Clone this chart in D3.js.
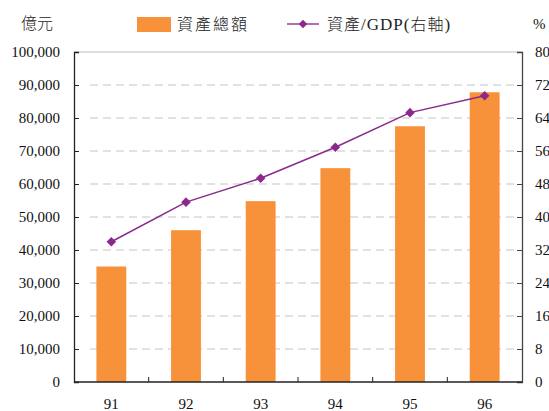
<!DOCTYPE html>
<html>
<head>
<meta charset="utf-8">
<script src="https://cdn.jsdelivr.net/npm/d3@7/dist/d3.min.js"></script>
<style>
  html, body { margin: 0; padding: 0; background: #fff; }
  svg { display: block; }
</style>
</head>
<body>
<svg id="chart" width="549" height="411"></svg>
<script>
// Years (ROC calendar)
const categories = ["91", "92", "93", "94", "95", "96"];
// Total assets, 億元 (left axis)
const assetTotals = [35000, 46000, 54800, 64800, 77500, 87800];
// Assets / GDP, % (right axis)
const assetGdpRatio = [34.0, 43.6, 49.4, 56.9, 65.3, 69.4];
// Tick labels
const leftTicks = [0, 10000, 20000, 30000, 40000, 50000, 60000, 70000, 80000, 90000, 100000];
const rightTicks = [0, 8, 16, 24, 32, 40, 48, 56, 64, 72, 80];

const SERIF = "'Liberation Serif', 'Times New Roman', Times, 'DejaVu Serif', serif";
const CJK = "'Noto Sans CJK TC', 'Noto Sans CJK SC', sans-serif";

const svg = d3.select("#chart");
const m = { left: 74, right: 522, top: 52, bottom: 382 };

const x = d3.scaleBand().domain(categories).range([m.left, m.right]).paddingInner(0.6).paddingOuter(0.3);
const xBand = d3.scaleBand().domain(categories).range([m.left, m.right]);
const yL = d3.scaleLinear().domain([0, 100000]).range([m.bottom, m.top]);
const yR = d3.scaleLinear().domain([0, 80]).range([m.bottom, m.top]);

const fmt = d3.format(",");

function numStyle(sel) {
  sel.style("font-family", SERIF).style("font-size", "15px").style("fill", "#111");
}
function cjkStyle(sel) {
  sel.style("font-family", CJK).style("font-size", "16px").style("font-weight", "300").style("fill", "#222");
}

// Dashed gridlines
svg.append("g").selectAll("line")
  .data(leftTicks.filter(d => d > 0 && d < 100000))
  .join("line")
  .attr("x1", m.left + 16).attr("x2", m.right - 4)
  .attr("y1", d => yL(d)).attr("y2", d => yL(d))
  .attr("stroke", "#c4c4c4").attr("stroke-width", 1)
  .attr("stroke-dasharray", "8,5");

// Top border
svg.append("line")
  .attr("x1", m.left).attr("x2", m.right)
  .attr("y1", yL(100000)).attr("y2", yL(100000))
  .attr("stroke", "#bdbdbd").attr("stroke-width", 1.2);

// Bars
svg.append("g").selectAll("rect")
  .data(categories)
  .join("rect")
  .attr("x", d => x(d))
  .attr("width", x.bandwidth())
  .attr("y", (d, i) => yL(assetTotals[i]))
  .attr("height", (d, i) => yL(0) - yL(assetTotals[i]))
  .attr("fill", "#f7923a");

// Left axis
const gL = svg.append("g").attr("transform", `translate(${m.left},0)`)
  .call(d3.axisLeft(yL).tickValues(leftTicks).tickSize(-5).tickPadding(14).tickFormat(fmt));
gL.select(".domain").attr("stroke", "#222").attr("stroke-width", 1.3);
gL.selectAll(".tick line").attr("stroke", "#222");
gL.selectAll("text").call(numStyle);

// Right axis
const gR = svg.append("g").attr("transform", `translate(${m.right},0)`)
  .call(d3.axisRight(yR).tickValues(rightTicks).tickSize(-5).tickPadding(13));
gR.select(".domain").attr("stroke", "#444").attr("stroke-width", 1.3);
gR.selectAll(".tick line").attr("stroke", "#444");
gR.selectAll("text").call(numStyle);

// Bottom axis: ticks at category boundaries, labels centred
const gB = svg.append("g").attr("transform", `translate(0,${m.bottom})`);
gB.append("line").attr("x1", m.left).attr("x2", m.right).attr("y1", 0).attr("y2", 0)
  .attr("stroke", "#222").attr("stroke-width", 1.3);
gB.selectAll(".bt").data(categories.slice(1)).join("line")
  .attr("class", "bt")
  .attr("x1", d => xBand(d)).attr("x2", d => xBand(d))
  .attr("y1", 0).attr("y2", -5).attr("stroke", "#222");
gB.selectAll("text").data(categories).join("text")
  .attr("x", d => xBand(d) + xBand.bandwidth() / 2)
  .attr("y", 27)
  .attr("text-anchor", "middle")
  .text(d => d)
  .call(numStyle);

// Ratio line with diamond markers
const line = d3.line()
  .x((d, i) => xBand(categories[i]) + xBand.bandwidth() / 2)
  .y(d => yR(d));
svg.append("path").datum(assetGdpRatio)
  .attr("d", line).attr("fill", "none")
  .attr("stroke", "#8b2a8c").attr("stroke-width", 1.5);
const diamond = d3.symbol().type(d3.symbolSquare).size(46);
svg.append("g").selectAll("path")
  .data(assetGdpRatio)
  .join("path")
  .attr("d", diamond)
  .attr("transform", (d, i) => `translate(${xBand(categories[i]) + xBand.bandwidth() / 2},${yR(d)}) rotate(45)`)
  .attr("fill", "#8b2a8c");

// Unit labels
svg.append("text").attr("x", 21).attr("y", 29).text("億元").call(cjkStyle);
svg.append("text").attr("x", 533).attr("y", 29).text("%").call(numStyle);

// Legend
svg.append("rect").attr("x", 137).attr("y", 17).attr("width", 34).attr("height", 15).attr("fill", "#f7923a");
svg.append("text").attr("x", 177).attr("y", 30).attr("letter-spacing", 2).text("資產總額").call(cjkStyle);
svg.append("line").attr("x1", 287).attr("x2", 319).attr("y1", 24).attr("y2", 24)
  .attr("stroke", "#9a3c9b").attr("stroke-width", 1.5);
svg.append("path").attr("d", d3.symbol().type(d3.symbolSquare).size(36))
  .attr("transform", "translate(303,24) rotate(45)").attr("fill", "#8b2a8c");
svg.append("text").attr("x", 327).attr("y", 30).attr("letter-spacing", 1).call(cjkStyle)
  .call(t => {
    t.append("tspan").text("資產");
    t.append("tspan").style("font-family", SERIF).style("font-size", "17px").text("/GDP(");
    t.append("tspan").text("右軸");
    t.append("tspan").style("font-family", SERIF).style("font-size", "17px").text(")");
  });
</script>
</body>
</html>
